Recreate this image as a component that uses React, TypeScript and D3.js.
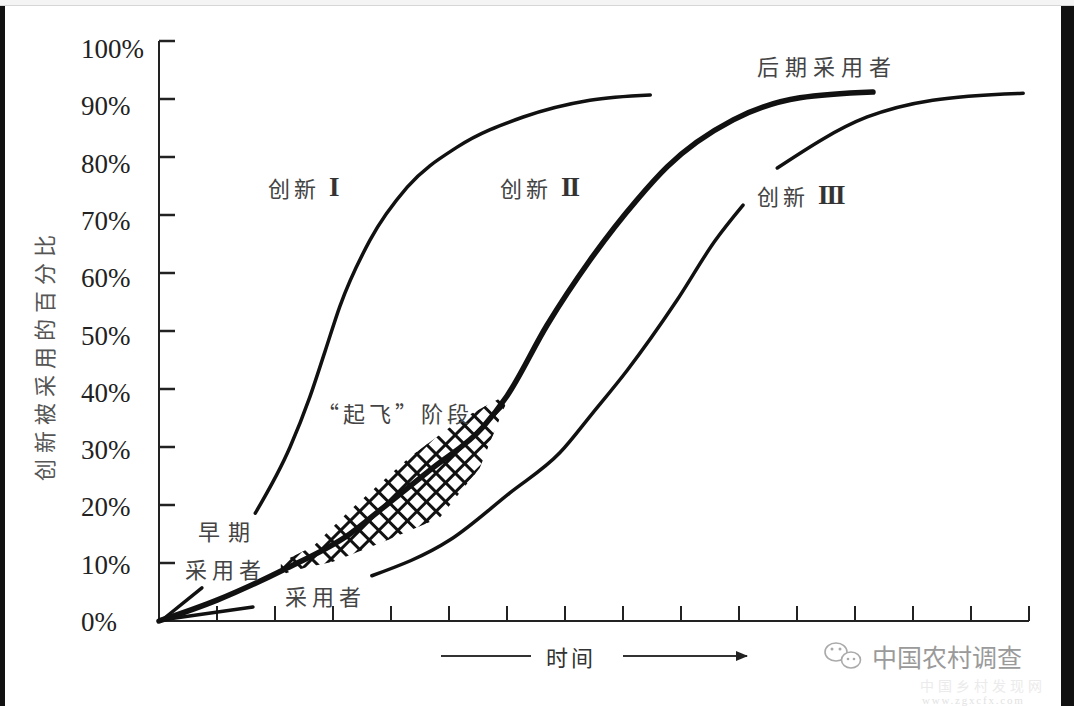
import * as d3 from 'd3'

// time axis: 15 equal periods, adoption share in percent
const TIME_TICKS = d3.range(1, 16)
const PCT_TICKS = d3.range(0, 101, 10)
const PCT_LABELS = PCT_TICKS.map((v) => `${v}%`)

// 创新 I
const innovation1Early: [number, number][] = [
  [0.07, 0.3],
  [0.74, 5.7],
]
const innovation1: [number, number][] = [
  [1.66, 18.6],
  [2.26, 30.0],
  [2.6, 38.6],
  [2.86, 46.4],
  [3.12, 54.3],
  [3.64, 65.7],
  [4.28, 74.8],
  [5.14, 81.7],
  [6.28, 86.9],
  [7.43, 89.8],
  [8.47, 90.7],
]

// 创新 II
const innovation2: [number, number][] = [
  [0, 0],
  [1, 3.6],
  [2.14, 8.8],
  [3.29, 15.0],
  [3.86, 19.5],
  [4.72, 26.4],
  [5.59, 33.5],
  [6.0, 38.8],
  [6.69, 51.0],
  [7.43, 62.2],
  [8.24, 72.6],
  [8.76, 78.3],
  [9.9, 86.4],
  [11.05, 90.2],
  [12.31, 91.2],
]

// 创新 III
const innovation3Early: [number, number][] = [
  [0.07, 0.2],
  [1.62, 2.4],
]
const innovation3Mid: [number, number][] = [
  [3.67, 7.8],
  [5.02, 14.0],
  [6.05, 22.1],
  [6.91, 29.0],
  [7.48, 35.9],
  [8.07, 43.2],
  [8.93, 55.3],
  [9.59, 65.6],
  [10.07, 71.7],
]
const innovation3Late: [number, number][] = [
  [10.66, 78.1],
  [12.21, 86.9],
  [13.34, 89.8],
  [14.9, 91.0],
]

// "起飞"阶段 band around innovation II
const takeoffUpper: [number, number][] = [
  [2.1, 9.8],
  [2.26, 10.9],
  [2.66, 12.9],
  [3.29, 19.1],
  [4.33, 28.3],
  [5.19, 34.7],
  [5.88, 38.4],
]
const takeoffLower: [number, number][] = [
  [2.1, 7.9],
  [2.34, 8.8],
  [3.0, 10.2],
  [3.86, 13.6],
  [4.84, 17.8],
  [5.53, 26.4],
  [5.76, 32.1],
  [5.97, 37.2],
]

const W = 1074
const H = 706
const CJK = '"Noto Sans CJK SC", "Noto Sans", sans-serif'
const SERIF = '"Liberation Serif", "DejaVu Serif", serif'

export default function App() {
  const x = d3.scaleLinear().domain([0, 15]).range([159, 1029])
  const y = d3.scaleLinear().domain([0, 100]).range([621, 41])
  const labelY = d3.scaleLinear().domain([0, 100]).range([622, 49])

  const line = d3
    .line<[number, number]>()
    .x((d) => x(d[0]))
    .y((d) => y(d[1]))
    .curve(d3.curveMonotoneX)

  // hatch polygon in pixels
  const poly = [...takeoffUpper, ...takeoffLower.slice().reverse()].map(
    (d) => [x(d[0]), y(d[1])] as [number, number],
  )
  const polyPath = d3
    .line<[number, number]>()
    .curve(d3.curveLinearClosed)(poly) as string
  const xs = poly.map((p) => p[0])
  const ys = poly.map((p) => p[1])
  const x0 = d3.min(xs)! - 20
  const x1 = d3.max(xs)! + 20
  const y0 = d3.min(ys)! - 20
  const y1 = d3.max(ys)! + 20
  const step = 13.5 * Math.SQRT2
  const span = x1 - x0 + (y1 - y0)
  const hatch: { a: [number, number]; b: [number, number] }[] = []
  for (let c = -span; c <= span; c += step) {
    hatch.push({ a: [x0, y0 + c], b: [x0 + span, y0 + c + span] })
    hatch.push({ a: [x0, y1 + c], b: [x0 + span, y1 + c - span] })
  }

  const axisColor = '#222'

  return (
    <div style={{ position: 'fixed', left: 0, top: 0, width: W, height: H, background: '#111', overflow: 'hidden' }}>
      <svg
        width={W}
        height={H}
        viewBox={`0 0 ${W} ${H}`}
        style={{ position: 'absolute', left: 0, top: 0, display: 'block' }}
      >
        <defs>
          <clipPath id="takeoff-clip">
            <path d={polyPath} />
          </clipPath>
          <marker id="arrowhead" viewBox="0 0 12 10" refX="11" refY="5" markerWidth="12" markerHeight="10" markerUnits="userSpaceOnUse" orient="auto">
            <path d="M0,0 L12,5 L0,10 Z" fill="#222" />
          </marker>
        </defs>

        {/* page: white sheet between dark side bars */}
        <rect x={0} y={0} width={W} height={5} fill="#f4f4f4" />
        <rect x={0} y={5} width={W} height={1} fill="#d6d6d6" />
        <rect x={5} y={6} width={1056} height={H - 6} fill="#ffffff" />

        {/* y axis */}
        <line x1={x(0)} x2={x(0)} y1={y(100)} y2={y(0)} stroke={axisColor} strokeWidth={2} />
        {PCT_TICKS.filter((v) => v > 0).map((v) => (
          <line key={v} x1={x(0)} x2={x(0) + 16} y1={y(v)} y2={y(v)} stroke={axisColor} strokeWidth={2.5} />
        ))}
        {PCT_TICKS.map((v, i) => (
          <text
            key={v}
            x={81}
            y={labelY(v)}
            dominantBaseline="central"
            fontFamily={SERIF}
            fontSize={27}
            fill="#222"
          >
            {PCT_LABELS[i]}
          </text>
        ))}
        <text
          transform={`translate(43, 355) rotate(-90)`}
          textAnchor="middle"
          dominantBaseline="central"
          fontFamily={CJK}
          fontSize={22}
          letterSpacing={6}
          fill="#555"
        >
          创新被采用的百分比
        </text>

        {/* x axis */}
        <line x1={x(0)} x2={x(15)} y1={y(0)} y2={y(0)} stroke={axisColor} strokeWidth={2} />
        {TIME_TICKS.map((t) => (
          <line key={t} x1={x(t)} x2={x(t)} y1={y(0)} y2={y(0) - 15} stroke={axisColor} strokeWidth={2} />
        ))}
        <line x1={441} x2={531} y1={656} y2={656} stroke="#333" strokeWidth={2} />
        <line x1={623} x2={747} y1={656} y2={656} stroke="#333" strokeWidth={2} markerEnd="url(#arrowhead)" />
        <text x={571} y={656} textAnchor="middle" dominantBaseline="central" fontFamily={CJK} fontSize={22} letterSpacing={3} fill="#333">
          时间
        </text>

        {/* take-off hatch */}
        <g clipPath="url(#takeoff-clip)">
          {hatch.map((h, i) => (
            <line key={i} x1={h.a[0]} y1={h.a[1]} x2={h.b[0]} y2={h.b[1]} stroke="#111" strokeWidth={3} />
          ))}
        </g>

        {/* curves */}
        <g fill="none" stroke="#111" strokeLinecap="round">
          <path d={line(innovation1Early)!} strokeWidth={3.5} />
          <path d={line(innovation1)!} strokeWidth={3.5} />
          <path d={line(innovation2)!} strokeWidth={5.5} />
          <path d={line(innovation3Early)!} strokeWidth={3.5} />
          <path d={line(innovation3Mid)!} strokeWidth={3.5} />
          <path d={line(innovation3Late)!} strokeWidth={3.5} />
        </g>

        {/* annotations */}
        <g fontFamily={CJK} fontSize={22} fill="#444" dominantBaseline="central">
          <text x={268} y={187} letterSpacing={4}>
            创新 <tspan fontFamily={SERIF} fontWeight="bold" fontSize={27} fill="#333">I</tspan>
          </text>
          <text x={500} y={187} letterSpacing={4}>
            创新 <tspan fontFamily={SERIF} fontWeight="bold" fontSize={27} fill="#333" letterSpacing={-2}>II</tspan>
          </text>
          <text x={757} y={195} letterSpacing={4}>
            创新 <tspan fontFamily={SERIF} fontWeight="bold" fontSize={27} fill="#333" letterSpacing={-2}>III</tspan>
          </text>
          <text x={757} y={65} letterSpacing={6}>后期采用者</text>
          <text x={317} y={412} letterSpacing={4}>“起飞”阶段</text>
          <text x={198} y={530} letterSpacing={8}>早期</text>
          <text x={185} y={568} letterSpacing={5}>采用者</text>
          <text x={285} y={595} letterSpacing={5}>采用者</text>
        </g>

        {/* watermark */}
        <g fill="#fff" stroke="#aaa" strokeWidth={1.6}>
          <ellipse cx={836} cy={652} rx={11} ry={9} />
          <ellipse cx={851} cy={660} rx={9.5} ry={8} />
        </g>
        <g fill="#aaa">
          <circle cx={832} cy={649} r={1.5} />
          <circle cx={840} cy={649} r={1.5} />
          <circle cx={848} cy={659} r={1.3} />
          <circle cx={854} cy={659} r={1.3} />
        </g>
        <text x={872} y={656} dominantBaseline="central" fontFamily={CJK} fontSize={25} fill="#9a9a9a">
          中国农村调查
        </text>
        <text x={920} y={685} dominantBaseline="central" fontFamily={CJK} fontSize={14} letterSpacing={4} fill="#ebebeb">
          中国乡村发现网
        </text>
        <text x={922} y={700} dominantBaseline="central" fontFamily={SERIF} fontSize={11} letterSpacing={1.8} fill="#e2e2e2">
          www.zgxcfx.com
        </text>
      </svg>
    </div>
  )
}
